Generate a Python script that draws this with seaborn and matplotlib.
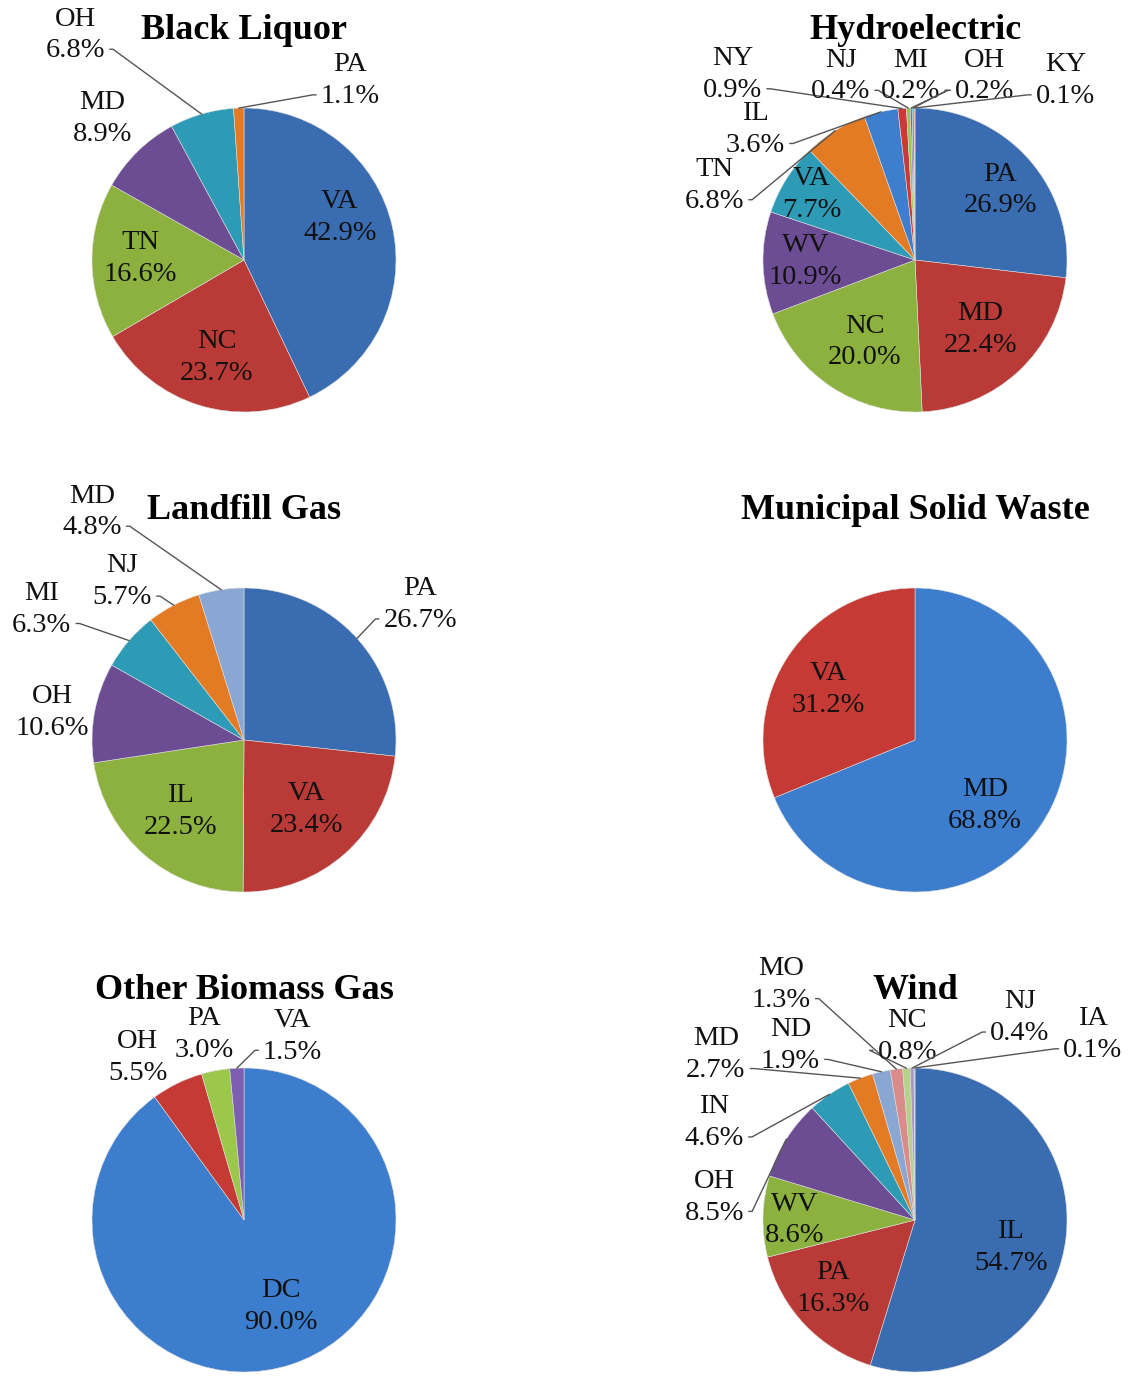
import numpy as np
import matplotlib
matplotlib.use("Agg")
import matplotlib.pyplot as plt
import seaborn as sns

sns.set_style("white")
plt.rcParams["font.family"] = ["Liberation Serif", "DejaVu Serif"]

# shares by state (%), clockwise from 12 o'clock
bl_states = ["VA", "NC", "TN", "MD", "OH", "PA"]
bl_share = [42.9, 23.7, 16.6, 8.9, 6.8, 1.1]

hy_states = ["PA", "MD", "NC", "WV", "VA", "TN", "IL", "NY", "NJ", "MI", "OH", "KY"]
hy_share = [26.9, 22.4, 20.0, 10.9, 7.7, 6.8, 3.6, 0.9, 0.4, 0.2, 0.2, 0.1]

lf_states = ["PA", "VA", "IL", "OH", "MI", "NJ", "MD"]
lf_share = [26.7, 23.4, 22.5, 10.6, 6.3, 5.7, 4.8]

msw_states = ["MD", "VA"]
msw_share = [68.8, 31.2]

ob_states = ["DC", "OH", "PA", "VA"]
ob_share = [90.0, 5.5, 3.0, 1.5]

wd_states = ["IL", "PA", "WV", "OH", "IN", "MD", "ND", "MO", "NC", "NJ", "IA"]
wd_share = [54.7, 16.3, 8.6, 8.5, 4.6, 2.7, 1.9, 1.3, 0.8, 0.4, 0.1]

# excel-like palette
base = ["#3A6CB1", "#B93A36", "#8CB13F", "#6C4D94", "#2E9BB6", "#E37B24"]
light = ["#8AA7D4", "#D98C8A", "#B6D189", "#A896C5", "#8CC9D9", "#F3B07A"]
second = ["#3E7ECF", "#CB3A36", "#9BC74A", "#8064B0", "#38AACB", "#F08C38"]

# label positions in pie-radius units, and whether a leader line is drawn
bl_pos = [(0.63, 0.28), (-0.18, -0.64), (-0.68, 0.01), (-0.93, 0.93), (-1.11, 1.48), (0.70, 1.18)]
bl_lead = [0, 0, 0, 0, 1, 1]
hy_pos = [(0.56, 0.46), (0.43, -0.46), (-0.33, -0.54), (-0.72, -0.01), (-0.68, 0.43),
          (-1.32, 0.49), (-1.05, 0.86), (-1.20, 1.22), (-0.49, 1.21), (-0.03, 1.21),
          (0.46, 1.21), (0.99, 1.18)]
hy_lead = [0, 0, 0, 0, 0, 1, 1, 1, 1, 1, 1, 1]
lf_pos = [(1.16, 0.89), (0.41, -0.46), (-0.42, -0.47), (-1.26, 0.18), (-1.33, 0.86),
          (-0.80, 1.04), (-1.00, 1.50)]
lf_lead = [1, 0, 0, 0, 1, 1, 1]
msw_pos = [(0.46, -0.43), (-0.57, 0.33)]
msw_lead = [0, 0]
ob_pos = [(0.24, -0.57), (-0.70, 1.07), (-0.26, 1.22), (0.32, 1.21)]
ob_lead = [0, 0, 0, 1]
wd_pos = [(0.63, -0.18), (-0.54, -0.45), (-0.79, 0.0), (-1.32, 0.15), (-1.32, 0.64),
          (-1.31, 1.09), (-0.82, 1.15), (-0.88, 1.55), (-0.05, 1.21), (0.69, 1.33),
          (1.17, 1.22)]
wd_lead = [0, 0, 0, 1, 1, 1, 1, 1, 1, 1, 1]

FW, FH = 1130, 1376
R = 152  # pie radius in px
W, H = 560, 480

fig = plt.figure(figsize=(FW / 100, FH / 100), dpi=100)


def draw(cx, cy, states, share, colors, pos, lead, title):
    ax = fig.add_axes([(cx - W / 2) / FW, 1 - (cy + H / 2) / FH, W / FW, H / FH])
    wedges, _ = ax.pie(share, colors=sns.color_palette(colors, len(share)), startangle=90,
                       counterclock=False, radius=1,
                       wedgeprops=dict(linewidth=0.4, edgecolor="#dddddd"))
    ax.set_xlim(-W / 2 / R, W / 2 / R)
    ax.set_ylim(-H / 2 / R, H / 2 / R)
    ax.set_aspect("auto")
    ax.axis("off")
    for w, s, v, (lx, ly), ld in zip(wedges, states, share, pos, lead):
        txt = f"{s}\n{v:.1f}%"
        kw = dict(ha="center", va="center", fontsize=20.5, linespacing=1.36, color="#111111")
        if ld:
            ang = np.deg2rad((w.theta1 + w.theta2) / 2)
            px, py = np.cos(ang), np.sin(ang)
            right = lx > px
            ax.annotate(txt, xy=(px, py), xytext=(lx, ly), zorder=5,
                        arrowprops=dict(arrowstyle="-", color="#555555", lw=1.0,
                                        shrinkA=1, shrinkB=0,
                                        relpos=(0 if right else 1, 0.25),
                                        connectionstyle="arc,angleA=%d,armA=8,angleB=0,armB=0,rad=0"
                                        % (180 if right else 0)),
                        **kw)
        else:
            ax.text(lx, ly, txt, zorder=5, **kw)
    ax.text(0, 1.51, title, ha="center", va="center", fontsize=26, fontweight="bold",
            color="black", zorder=6)


draw(244, 260, bl_states, bl_share, base, bl_pos, bl_lead, "Black Liquor")
draw(915, 260, hy_states, hy_share, base + second, hy_pos, hy_lead, "Hydroelectric")
draw(244, 740, lf_states, lf_share, base + light[:1], lf_pos, lf_lead, "Landfill Gas")
draw(915, 740, msw_states, msw_share, ["#3D7DCD", "#C63A36"], msw_pos, msw_lead,
     "Municipal Solid Waste")
draw(244, 1220, ob_states, ob_share, ["#3D7DCD", "#C63A36", "#9BC74A", "#7E5EAF"], ob_pos,
     ob_lead, "Other Biomass Gas")
draw(915, 1220, wd_states, wd_share, base + light, wd_pos, wd_lead, "Wind")

fig.savefig("out.png", dpi=100, facecolor="white")
